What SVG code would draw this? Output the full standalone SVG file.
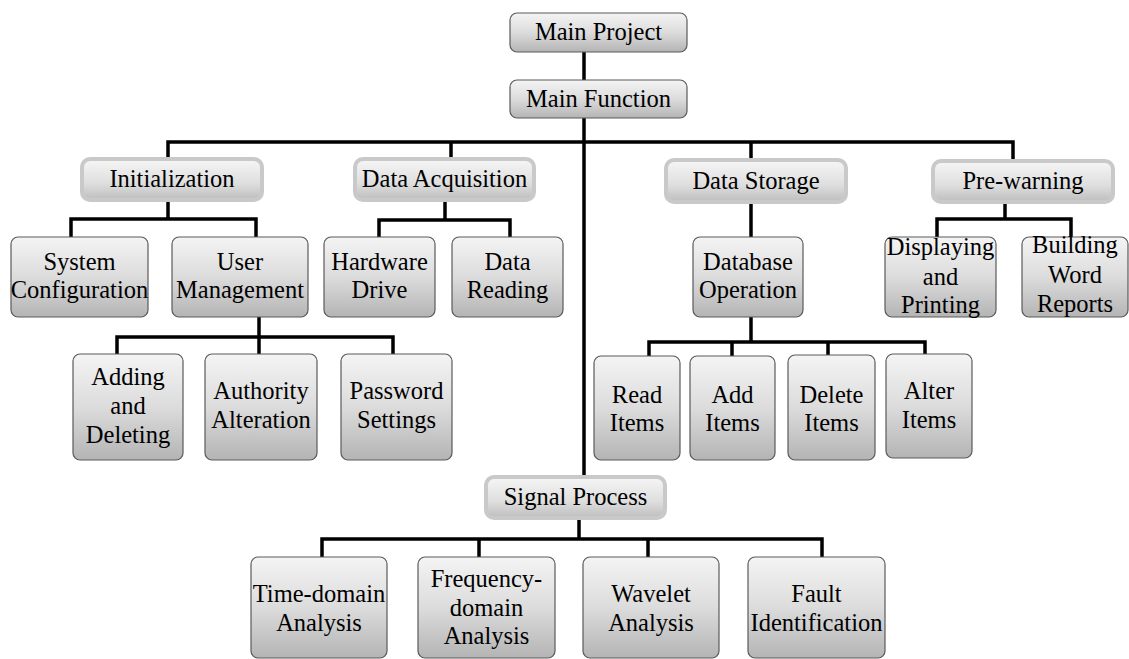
<svg xmlns="http://www.w3.org/2000/svg" width="1129" height="659" viewBox="0 0 1129 659" font-family="Liberation Serif, serif">
<defs>
<linearGradient id="g" x1="0" y1="0" x2="0" y2="1">
<stop offset="0" stop-color="#f4f4f4"/>
<stop offset="0.5" stop-color="#dcdcdc"/>
<stop offset="1" stop-color="#b4b4b4"/>
</linearGradient>
<linearGradient id="g2" x1="0" y1="0" x2="0" y2="1">
<stop offset="0" stop-color="#f6f6f6"/>
<stop offset="0.6" stop-color="#dedede"/>
<stop offset="1" stop-color="#bdbdbd"/>
</linearGradient>
<style>
.leaf{fill:url(#g);stroke:#5a5a5a;stroke-width:1.2}
.l2{fill:url(#g2);stroke:#c9c9c9;stroke-width:4}
.t{font-family:'Liberation Serif','Times New Roman',serif;font-size:24.5px;fill:#000;text-anchor:middle}
.c{fill:none;stroke:#000;stroke-width:3.5;stroke-linejoin:miter;stroke-linecap:butt}
</style>
</defs>
<rect width="1129" height="659" fill="#fff"/>
<g id="connectors" class="c">
<path d="M584 52V80"/>
<path d="M584 118V477"/>
<path d="M168 159V142H1013V161"/>
<path d="M451 142V159"/>
<path d="M751 142V160"/>
<path d="M168 200V219"/>
<path d="M71 237V219H256V237"/>
<path d="M259 317V337"/>
<path d="M117 354V337H393V354"/>
<path d="M259 337V354"/>
<path d="M445 200V220"/>
<path d="M379 237V220H510V237"/>
<path d="M751 202V237"/>
<path d="M751 317V342"/>
<path d="M649 356V342H925V354"/>
<path d="M732 342V356"/>
<path d="M828 342V355"/>
<path d="M1005 202V219"/>
<path d="M937 237V219H1071V237"/>
<path d="M579 518V539"/>
<path d="M322 557V539H822V557"/>
<path d="M479 539V557"/>
<path d="M648 539V557"/>
</g>
<g id="main-project"><rect class="leaf" x="510" y="13" width="177" height="39" rx="7"/><text class="t" x="598.5" y="40">Main Project</text></g>
<g id="main-function"><rect class="leaf" x="510" y="80" width="177" height="38" rx="7"/><text class="t" x="598.5" y="107">Main Function</text></g>
<g id="initialization"><rect class="l2" x="82" y="159" width="180" height="41" rx="8"/><text class="t" x="172" y="187">Initialization</text></g>
<g id="data-acquisition"><rect class="l2" x="355" y="159" width="179" height="41" rx="8"/><text class="t" x="444.5" y="187">Data Acquisition</text></g>
<g id="data-storage"><rect class="l2" x="666" y="160" width="180" height="42" rx="8"/><text class="t" x="756" y="189">Data Storage</text></g>
<g id="pre-warning"><rect class="l2" x="933" y="161" width="180" height="41" rx="8"/><text class="t" x="1023" y="189">Pre-warning</text></g>
<g id="signal-process"><rect class="l2" x="486" y="477" width="179" height="41" rx="8"/><text class="t" x="575.5" y="505">Signal Process</text></g>
<g id="system-configuration"><rect class="leaf" x="11" y="237" width="137" height="80" rx="7"/><text class="t" x="79.5" y="270">System</text><text class="t" x="79.5" y="298">Configuration</text></g>
<g id="user-management"><rect class="leaf" x="172" y="237" width="136" height="80" rx="7"/><text class="t" x="240" y="270">User</text><text class="t" x="240" y="298">Management</text></g>
<g id="adding-deleting"><rect class="leaf" x="73" y="354" width="110" height="106" rx="7"/><text class="t" x="128" y="385">Adding</text><text class="t" x="128" y="414">and</text><text class="t" x="128" y="443">Deleting</text></g>
<g id="authority-alteration"><rect class="leaf" x="205" y="354" width="112" height="106" rx="7"/><text class="t" x="261" y="399">Authority</text><text class="t" x="261" y="428">Alteration</text></g>
<g id="password-settings"><rect class="leaf" x="341" y="354" width="111" height="106" rx="7"/><text class="t" x="396.5" y="399">Password</text><text class="t" x="396.5" y="428">Settings</text></g>
<g id="hardware-drive"><rect class="leaf" x="324" y="237" width="111" height="80" rx="7"/><text class="t" x="379.5" y="270">Hardware</text><text class="t" x="379.5" y="298">Drive</text></g>
<g id="data-reading"><rect class="leaf" x="452" y="237" width="111" height="80" rx="7"/><text class="t" x="507.5" y="270">Data</text><text class="t" x="507.5" y="298">Reading</text></g>
<g id="database-operation"><rect class="leaf" x="693" y="237" width="110" height="80" rx="7"/><text class="t" x="748" y="270">Database</text><text class="t" x="748" y="298">Operation</text></g>
<g id="read-items"><rect class="leaf" x="594" y="356" width="86" height="104" rx="7"/><text class="t" x="637" y="403">Read</text><text class="t" x="637" y="431">Items</text></g>
<g id="add-items"><rect class="leaf" x="690" y="356" width="85" height="104" rx="7"/><text class="t" x="732.5" y="403">Add</text><text class="t" x="732.5" y="431">Items</text></g>
<g id="delete-items"><rect class="leaf" x="788" y="355" width="87" height="105" rx="7"/><text class="t" x="831.5" y="403">Delete</text><text class="t" x="831.5" y="431">Items</text></g>
<g id="alter-items"><rect class="leaf" x="886" y="354" width="86" height="104" rx="7"/><text class="t" x="929" y="399">Alter</text><text class="t" x="929" y="428">Items</text></g>
<g id="displaying-printing"><rect class="leaf" x="885" y="237" width="111" height="80" rx="7"/><text class="t" x="940.5" y="255">Displaying</text><text class="t" x="940.5" y="285">and</text><text class="t" x="940.5" y="313">Printing</text></g>
<g id="building-reports"><rect class="leaf" x="1022" y="237" width="106" height="80" rx="7"/><text class="t" x="1075" y="253">Building</text><text class="t" x="1075" y="283">Word</text><text class="t" x="1075" y="312">Reports</text></g>
<g id="time-domain"><rect class="leaf" x="251" y="557" width="136" height="101" rx="7"/><text class="t" x="319" y="602">Time-domain</text><text class="t" x="319" y="631">Analysis</text></g>
<g id="frequency-domain"><rect class="leaf" x="418" y="557" width="137" height="101" rx="7"/><text class="t" x="486.5" y="587">Frequency-</text><text class="t" x="486.5" y="616">domain</text><text class="t" x="486.5" y="644">Analysis</text></g>
<g id="wavelet"><rect class="leaf" x="583" y="557" width="136" height="101" rx="7"/><text class="t" x="651" y="602">Wavelet</text><text class="t" x="651" y="631">Analysis</text></g>
<g id="fault"><rect class="leaf" x="748" y="557" width="137" height="101" rx="7"/><text class="t" x="816.5" y="602">Fault</text><text class="t" x="816.5" y="631">Identification</text></g>
</svg>
